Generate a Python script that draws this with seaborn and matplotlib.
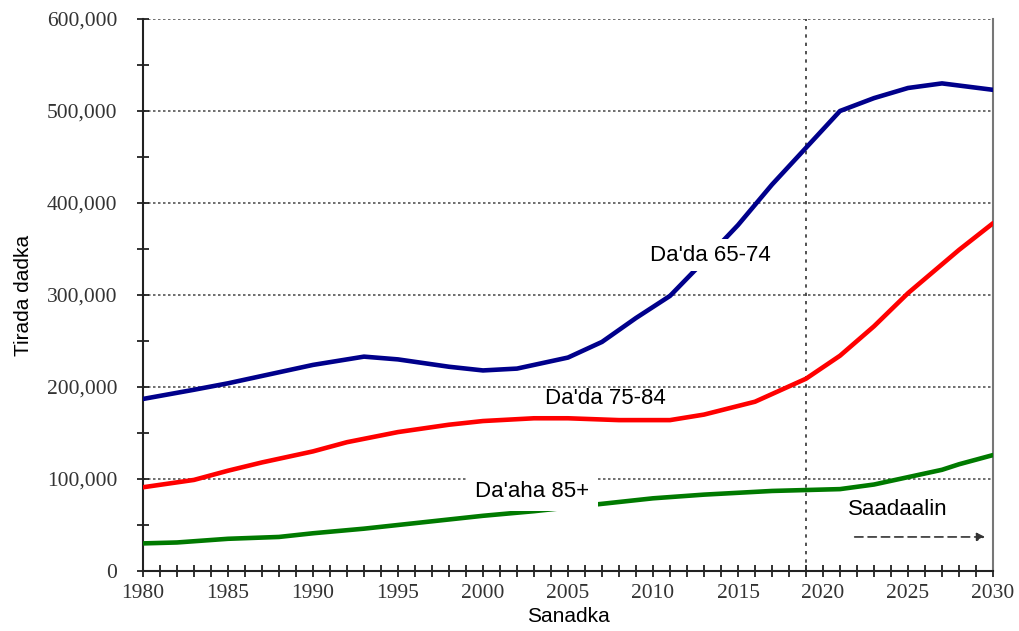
import numpy as np
import pandas as pd
import matplotlib
matplotlib.use("Agg")
import matplotlib.pyplot as plt
import seaborn as sns
from matplotlib.ticker import MultipleLocator, FuncFormatter

# ---- data ----
years_65 = [1980, 1983, 1985, 1987, 1990, 1993, 1995, 1998, 2000, 2002, 2005, 2007, 2009, 2011,
            2013, 2015, 2017, 2019, 2021, 2023, 2025, 2027, 2030]
vals_65 = [187000, 197000, 204000, 212000, 224000, 233000, 230000, 222000, 218000, 220000, 232000,
           249000, 275000, 299000, 337000, 376000, 420000, 460000, 500000, 514000, 525000, 530000, 523000]

years_75 = [1980, 1983, 1985, 1987, 1990, 1992, 1995, 1998, 2000, 2003, 2005, 2008, 2011, 2013,
            2016, 2019, 2021, 2023, 2025, 2028, 2030]
vals_75 = [91000, 99000, 109000, 118000, 130000, 140000, 151000, 159000, 163000, 166000, 166000,
           164000, 164000, 170000, 184000, 209000, 234000, 266000, 302000, 349000, 378000]

years_85 = [1980, 1982, 1985, 1988, 1990, 1993, 1995, 1998, 2000, 2003, 2005, 2008, 2010, 2013,
            2015, 2017, 2019, 2021, 2023, 2025, 2027, 2028, 2030]
vals_85 = [30000, 31000, 35000, 37000, 41000, 46000, 50000, 56000, 60000, 65000, 69000, 75000,
           79000, 83000, 85000, 87000, 88000, 89000, 94000, 102000, 110000, 116000, 126000]

series_names = ["Da'da 65-74", "Da'da 75-84", "Da'aha 85+"]
series_colors = ["#00008B", "#FF0000", "#007A00"]
y_ticks = [0, 100000, 200000, 300000, 400000, 500000, 600000]
x_ticks = [1980, 1985, 1990, 1995, 2000, 2005, 2010, 2015, 2020, 2025, 2030]
projection_start = 2019

df = pd.concat([
    pd.DataFrame({"Sanadka": years_65, "Tirada dadka": vals_65, "group": series_names[0]}),
    pd.DataFrame({"Sanadka": years_75, "Tirada dadka": vals_75, "group": series_names[1]}),
    pd.DataFrame({"Sanadka": years_85, "Tirada dadka": vals_85, "group": series_names[2]}),
])

sns.set_style("ticks")
fig = plt.figure(figsize=(10.19, 6.31), dpi=100)
ax = fig.add_axes([0.1403, 0.0951, 0.8342, 0.8748])

sns.lineplot(data=df, x="Sanadka", y="Tirada dadka", hue="group", palette=series_colors,
             hue_order=series_names, linewidth=3.3, legend=False, ax=ax, zorder=3)

ax.set_xlim(1980, 2030)
ax.set_ylim(0, 600000)
ax.set_yticks(y_ticks)
ax.set_xticks(x_ticks)
ax.yaxis.set_minor_locator(MultipleLocator(50000))
ax.xaxis.set_minor_locator(MultipleLocator(1))
ax.yaxis.set_major_formatter(FuncFormatter(lambda v, p: f"{int(v):,}"))

serif = "Liberation Serif"
for lab in ax.get_xticklabels() + ax.get_yticklabels():
    lab.set_fontfamily(serif)
    lab.set_fontsize(15.5)
    lab.set_color("#333333")

ax.tick_params(axis="both", which="both", left=True, bottom=True, top=False, right=False)
ax.tick_params(axis="both", which="major", direction="inout", length=9, width=1.3, color="#222222")
ax.tick_params(axis="both", which="minor", direction="inout", length=8, width=1.3, color="#222222")
ax.tick_params(axis="x", which="major", pad=5)
ax.tick_params(axis="y", which="major", pad=14)

ax.grid(axis="y", which="major", linestyle=(0, (1.5, 1.5)), color="#555555", linewidth=1.2)
ax.axvline(projection_start, linestyle=(0, (2, 3)), color="#333333", linewidth=1.2, zorder=2)

for s in ["left", "bottom"]:
    ax.spines[s].set_color("#222222")
    ax.spines[s].set_linewidth(1.5)
ax.spines["top"].set_visible(False)
ax.spines["right"].set_visible(True)
ax.spines["right"].set_color("#777777")
ax.spines["right"].set_linewidth(1.5)

ax.set_xlabel("Sanadka", fontsize=15, fontfamily="Liberation Sans", color="black", labelpad=3)
ax.set_ylabel("Tirada dadka", fontsize=15, fontfamily="Liberation Sans", color="black", labelpad=10)

lab_font = dict(fontsize=16, fontfamily="Liberation Sans", color="black",
                ha="center", va="center", zorder=4)
ax.text(2013.4, 343000, series_names[0],
        bbox=dict(facecolor="white", edgecolor="none", pad=4), **lab_font)
ax.text(2007.2, 187000, series_names[1], **lab_font)
ax.text(2002.9, 86000, series_names[2],
        bbox=dict(facecolor="white", edgecolor="none", pad=6), **lab_font)
ax.text(2024.4, 67000, "Saadaalin", **lab_font)
ax.annotate("", xy=(2029.7, 37000), xytext=(2021.7, 37000),
            arrowprops=dict(arrowstyle="-|>", linestyle=(0, (5, 3)), color="#333333",
                            linewidth=1.2, mutation_scale=12))

fig.savefig("out.png", dpi=100)
